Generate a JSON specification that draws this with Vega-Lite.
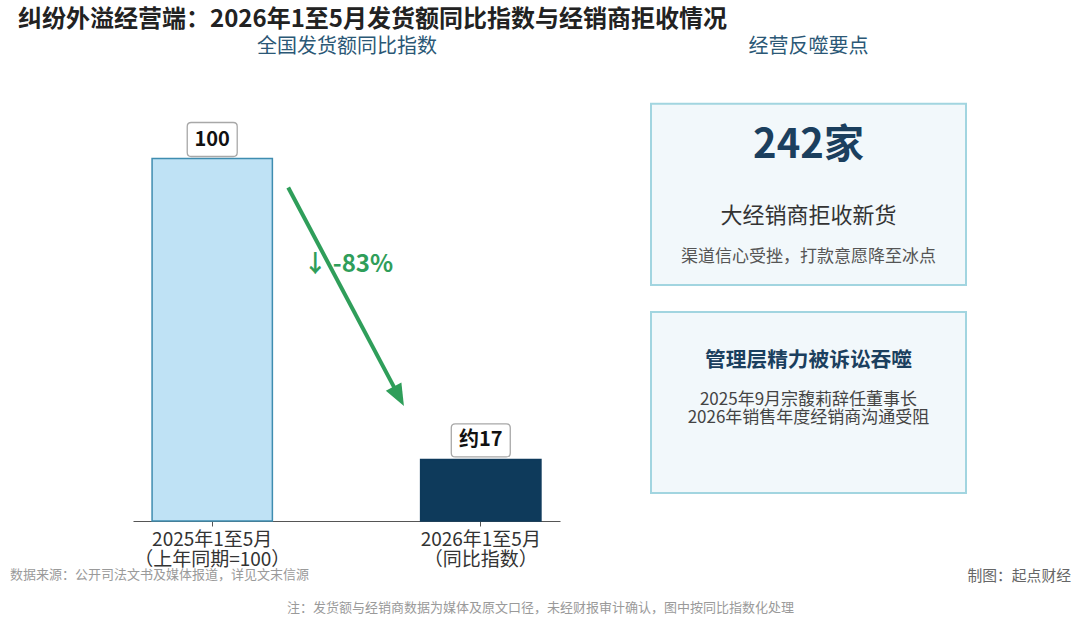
{
  "$schema": "https://vega.github.io/schema/vega-lite/v6.json",
  "background": "white",
  "padding": {"left": 10, "top": 8, "right": 9, "bottom": 10},
  "config": {
    "font": "Noto Sans CJK SC",
    "view": {"stroke": null},
    "text": {"font": "Noto Sans CJK SC"}
  },
  "title": {
    "text": "纠纷外溢经营端：2026年1至5月发货额同比指数与经销商拒收情况",
    "anchor": "start",
    "fontSize": 24,
    "fontWeight": "bold",
    "color": "#222222",
    "font": "Noto Sans CJK SC",
    "dx": 8,
    "offset": 5
  },
  "datasets": {
    "bars": [
      {"period": "2025年1至5月\n（上年同期=100）", "value": 100, "label": "100"},
      {"period": "2026年1至5月\n（同比指数）", "value": 17, "label": "约17"}
    ],
    "arrow": [
      {"from": "2025年1至5月\n（上年同期=100）", "to": "2026年1至5月\n（同比指数）", "start": 100, "end": 17, "change": "↓ -83%"}
    ],
    "cards": [
      {"card": "c1", "head": "242家", "body": "大经销商拒收新货", "note": "渠道信心受挫，打款意愿降至冰点"},
      {"card": "c2", "head": "管理层精力被诉讼吞噬", "body": "2025年9月宗馥莉辞任董事长\n2026年销售年度经销商沟通受阻", "note": ""}
    ],
    "notes": [
      {"pos": "left", "line": "1", "text": "数据来源：公开司法文书及媒体报道，详见文末信源"},
      {"pos": "right", "line": "1", "text": "制图：起点财经"},
      {"pos": "center", "line": "2", "text": "注：发货额与经销商数据为媒体及原文口径，未经财报审计确认，图中按同比指数化处理"}
    ]
  },
  "spacing": -10,
  "vconcat": [
    {
      "spacing": 90,
      "hconcat": [
        {
          "width": 550,
          "height": 435,
          "title": {"text": "全国发货额同比指数", "fontSize": 20, "fontWeight": "normal", "color": "#2b5876", "offset": 29, "dx": 62, "anchor": "middle"},
          "layer": [
            {
              "data": {"name": "bars"},
              "mark": {"type": "bar", "strokeWidth": 1.5},
              "encoding": {
                "x": {
                  "field": "period", "type": "nominal", "sort": null,
                  "scale": {"range": [123, 550], "paddingInner": 0.552, "paddingOuter": 0.071},
                  "axis": {
                    "title": null, "labelAngle": 0, "labelExpr": "split(datum.label, '\\n')",
                    "labelFontSize": 19, "labelColor": "#333333", "labelLineHeight": 20, "labelPadding": 4,
                    "tickSize": 5, "tickColor": "#555555", "domainColor": "#555555", "domainWidth": 1.2
                  }
                },
                "y": {"field": "value", "type": "quantitative", "scale": {"domain": [0, 120]}, "axis": null},
                "fill": {"field": "period", "type": "nominal", "sort": null, "scale": {"range": ["#bfe2f5", "#0e3a5b"]}, "legend": null},
                "stroke": {"field": "period", "type": "nominal", "sort": null, "scale": {"range": ["#3f8db0", "#0e3a5b"]}, "legend": null}
              }
            },
            {
              "data": {"name": "arrow"},
              "mark": {"type": "rule", "color": "#2f9e5a", "strokeWidth": 4, "xOffset": 76, "yOffset": 29, "x2Offset": -85, "y2Offset": -69},
              "encoding": {
                "x": {"field": "from", "type": "nominal", "sort": null},
                "x2": {"field": "to"},
                "y": {"field": "start", "type": "quantitative"},
                "y2": {"field": "end"}
              }
            },
            {
              "data": {"name": "arrow"},
              "mark": {"type": "point", "filled": true, "opacity": 1, "color": "#2f9e5a", "shape": "M-0.8,-1 L0.8,-1 L0,1 Z", "size": 484, "angle": -28, "xOffset": -82, "yOffset": -63},
              "encoding": {
                "x": {"field": "to", "type": "nominal", "sort": null},
                "y": {"field": "end", "type": "quantitative"}
              }
            },
            {
              "data": {"name": "arrow"},
              "mark": {"type": "text", "color": "#2f9e5a", "fontSize": 24, "fontWeight": "bold", "dx": 136, "dy": 106, "align": "center", "baseline": "middle"},
              "encoding": {
                "x": {"field": "from", "type": "nominal", "sort": null},
                "y": {"field": "start", "type": "quantitative"},
                "text": {"field": "change"}
              }
            },
            {
              "data": {"name": "bars"},
              "mark": {"type": "point", "filled": true, "opacity": 1, "fill": "white", "stroke": "#a8a8a8", "strokeWidth": 1.3, "size": 3600, "yOffset": -19},
              "encoding": {
                "x": {"field": "period", "type": "nominal", "sort": null},
                "y": {"field": "value", "type": "quantitative"},
                "shape": {
                  "field": "period", "type": "nominal", "sort": null, "legend": null,
                  "scale": {"range": [
                    "M-0.7,-0.567 L0.7,-0.567 Q0.833,-0.567 0.833,-0.434 L0.833,0.434 Q0.833,0.567 0.7,0.567 L-0.7,0.567 Q-0.833,0.567 -0.833,0.434 L-0.833,-0.434 Q-0.833,-0.567 -0.7,-0.567 Z",
                    "M-0.85,-0.55 L0.85,-0.55 Q0.983,-0.55 0.983,-0.417 L0.983,0.417 Q0.983,0.55 0.85,0.55 L-0.85,0.55 Q-0.983,0.55 -0.983,0.417 L-0.983,-0.417 Q-0.983,-0.55 -0.85,-0.55 Z"
                  ]}
                }
              }
            },
            {
              "data": {"name": "bars"},
              "mark": {"type": "text", "fontSize": 20, "fontWeight": "bold", "color": "#111111", "dy": -19, "baseline": "middle"},
              "encoding": {
                "x": {"field": "period", "type": "nominal", "sort": null},
                "y": {"field": "value", "type": "quantitative"},
                "text": {"field": "label"}
              }
            }
          ]
        },
        {
          "width": 315,
          "height": 435,
          "title": {"text": "经营反噬要点", "fontSize": 20, "fontWeight": "normal", "color": "#2b5876", "offset": 29, "anchor": "middle"},
          "data": {"name": "cards"},
          "layer": [
            {
              "mark": {"type": "rect", "fill": "#f2f8fb", "stroke": "#a2d5e0", "strokeWidth": 2},
              "encoding": {
                "y": {"field": "card", "type": "nominal", "scale": {"paddingInner": 0.13, "paddingOuter": 0.11, "align": 0.39}, "axis": null}
              }
            },
            {
              "transform": [{"filter": "datum.card == 'c1'"}],
              "mark": {"type": "text", "fontSize": 40, "fontWeight": "bold", "color": "#1b3f5e", "dy": -48, "baseline": "middle"},
              "encoding": {"y": {"field": "card", "type": "nominal"}, "text": {"field": "head"}}
            },
            {
              "transform": [{"filter": "datum.card == 'c1'"}],
              "mark": {"type": "text", "fontSize": 22, "color": "#333333", "dy": 22, "baseline": "middle"},
              "encoding": {"y": {"field": "card", "type": "nominal"}, "text": {"field": "body"}}
            },
            {
              "transform": [{"filter": "datum.card == 'c1'"}],
              "mark": {"type": "text", "fontSize": 17, "color": "#555555", "dy": 63, "baseline": "middle"},
              "encoding": {"y": {"field": "card", "type": "nominal"}, "text": {"field": "note"}}
            },
            {
              "transform": [{"filter": "datum.card == 'c2'"}],
              "mark": {"type": "text", "fontSize": 20.7, "fontWeight": "bold", "color": "#1b3f5e", "dy": -42, "baseline": "middle"},
              "encoding": {"y": {"field": "card", "type": "nominal"}, "text": {"field": "head"}}
            },
            {
              "transform": [{"filter": "datum.card == 'c2'"}],
              "mark": {"type": "text", "fontSize": 17, "color": "#444444", "dy": -3, "baseline": "middle", "lineBreak": "\n", "lineHeight": 18},
              "encoding": {"y": {"field": "card", "type": "nominal"}, "text": {"field": "body"}}
            }
          ]
        }
      ]
    },
    {
      "width": 1061,
      "height": 33,
      "data": {"name": "notes"},
      "encoding": {
        "x": {"field": "pos", "type": "nominal", "scale": {"type": "point", "domain": ["left", "center", "right"], "padding": 0}, "axis": null},
        "y": {"field": "line", "type": "nominal", "scale": {"type": "point", "domain": ["1", "2"], "padding": 0}, "axis": null},
        "text": {"field": "text"}
      },
      "layer": [
        {"transform": [{"filter": "datum.pos == 'left'"}], "mark": {"type": "text", "align": "left", "baseline": "top", "fontSize": 13, "color": "#9a9a9a"}},
        {"transform": [{"filter": "datum.pos == 'right'"}], "mark": {"type": "text", "align": "right", "baseline": "top", "fontSize": 14.8, "color": "#666666"}},
        {"transform": [{"filter": "datum.pos == 'center'"}], "mark": {"type": "text", "align": "center", "baseline": "top", "fontSize": 13, "color": "#9a9a9a"}}
      ]
    }
  ]
}
